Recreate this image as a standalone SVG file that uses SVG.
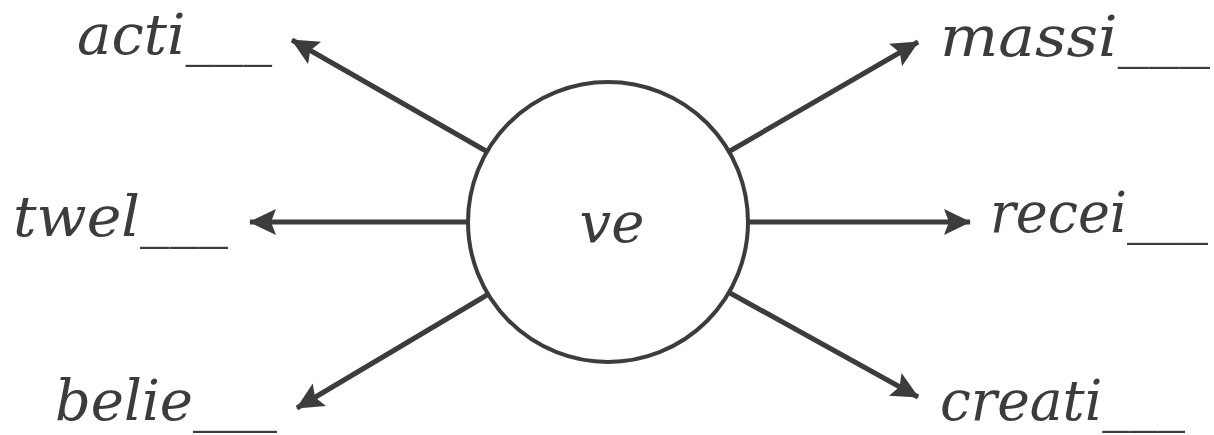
<svg xmlns="http://www.w3.org/2000/svg" width="1214" height="435" viewBox="0 0 1214 435">
<style>
.lbl{font-family:"DejaVu Serif","Liberation Serif",serif;font-style:italic;font-size:56px;fill:#3c3c3c}
.conn{stroke:#3c3c3c;stroke-width:5;fill:none;marker-end:url(#ah)}
</style>
<defs>
<marker id="ah" markerUnits="userSpaceOnUse" markerWidth="30" markerHeight="28" refX="26" refY="13" orient="auto">
<path d="M0,0 L27,13 L0,26 L5,13 Z" fill="#3c3c3c"/>
</marker>
</defs>
<rect width="1214" height="435" fill="#ffffff"/>
<g id="center">
<circle cx="608" cy="222" r="140" fill="#ffffff" stroke="#3c3c3c" stroke-width="4"/>
<text x="612" y="242" class="lbl" font-size="84" text-anchor="middle">ve</text>
</g>
<g id="connectors">
<line class="conn" x1="486" y1="151" x2="292" y2="40"/>
<line class="conn" x1="468" y1="222" x2="250" y2="222"/>
<line class="conn" x1="487" y1="295" x2="297" y2="408"/>
<line class="conn" x1="730" y1="151" x2="918" y2="42"/>
<line class="conn" x1="748" y1="222" x2="970" y2="222"/>
<line class="conn" x1="730" y1="293" x2="918" y2="397"/>
</g>
<g id="n-acti"><text class="lbl" x="77" y="54" textLength="195" lengthAdjust="spacingAndGlyphs">acti___</text></g>
<g id="n-twel"><text class="lbl" x="13" y="236" textLength="215" lengthAdjust="spacingAndGlyphs">twel___</text></g>
<g id="n-belie"><text class="lbl" x="55" y="420" textLength="222" lengthAdjust="spacingAndGlyphs">belie___</text></g>
<g id="n-massi"><text class="lbl" x="940" y="56" textLength="270" lengthAdjust="spacingAndGlyphs">massi___</text></g>
<g id="n-recei"><text class="lbl" x="990" y="232" font-size="52" textLength="218" lengthAdjust="spacingAndGlyphs">recei___</text></g>
<g id="n-creati"><text class="lbl" x="940" y="420" textLength="245" lengthAdjust="spacingAndGlyphs">creati___</text></g>
</svg>
